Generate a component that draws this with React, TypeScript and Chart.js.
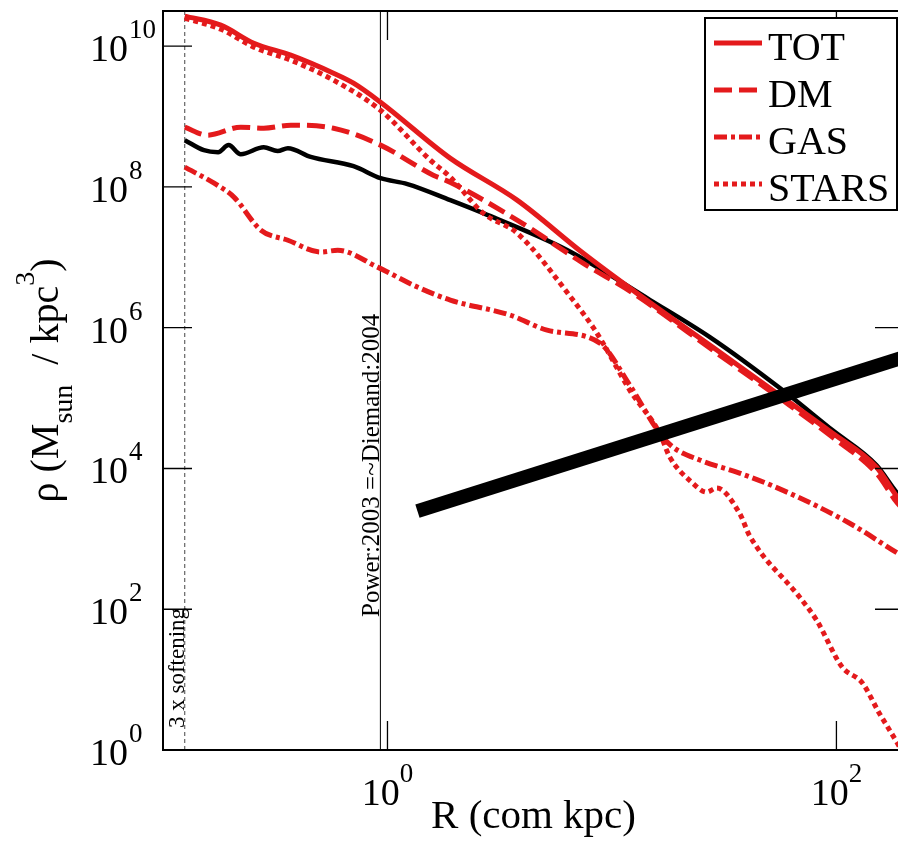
import React, { useEffect, useRef } from 'react';
import { Chart, registerables } from 'chart.js';

Chart.register(...registerables);

const RED = '#e41a1c';
const SERIF = '"Liberation Serif", "Times New Roman", serif';

const X_MIN = 0.1;
const X_MAX = 200;
const Y_MIN = 1;
const Y_MAX = 3.1623e10;

const X_TICKS = [1, 100];
const X_TICK_EXP = ['0', '2'];
const Y_TICKS = [1, 1e2, 1e4, 1e6, 1e8, 1e10];
const Y_TICK_EXP = ['0', '2', '4', '6', '8', '10'];

const SOFTENING_R = 0.125;
const POWER_R = 0.93;

const R_TOT = [0.125, 0.181, 0.254, 0.371, 0.575, 0.706, 0.931, 1.9, 3.78, 7.43, 12.9, 29.3, 57.5, 95.9, 150.6, 186.7, 200];
const RHO_TOT = [2.67e10, 1.99e10, 1.1e10, 7.45e9, 4.13e9, 2.98e9, 1.6e9, 2.57e8, 6.5e7, 1.15e7, 3.1e6, 4.81e5, 1.03e5, 3.18e4, 1.05e4, 3.93e3, 3.0e3];

const R_DM = [0.125, 0.158, 0.222, 0.281, 0.371, 0.575, 0.931, 1.6, 1.9, 3.78, 7.43, 12.4, 29.3, 57.5, 95.9, 150.6, 186.7, 200];
const RHO_DM = [7.07e8, 5.44e8, 7.07e8, 6.84e8, 7.55e8, 6.84e8, 3.93e8, 1.47e8, 1.17e8, 3.38e7, 8.28e6, 3.1e6, 4.36e5, 9.37e4, 2.79e4, 8.6e3, 3.23e3, 2.57e3];

const R_GAS = [0.125, 0.169, 0.207, 0.273, 0.36, 0.504, 0.6, 0.903, 1.36, 1.905, 3.52, 5.14, 8.84, 12.0, 16.3, 18.7, 24.6, 37.0, 57.5, 114, 186.7, 200];
const RHO_GAS = [1.91e8, 1.13e8, 7.17e7, 2.43e7, 1.75e7, 1.19e7, 1.26e7, 7.26e6, 3.78e6, 2.47e6, 1.51e6, 9.25e5, 6.04e5, 1.53e5, 3.18e4, 2.01e4, 1.32e4, 8.6e3, 4.93e3, 1.68e3, 6.29e2, 5.51e2];

const R_STARS = [0.125, 0.181, 0.254, 0.371, 0.575, 0.931, 1.553, 1.905, 2.67, 3.78, 6.71, 8.23, 9.12, 12.0, 16.3, 18.1, 22.9, 26.4, 29.3, 37.0, 41.1, 68.5, 81.5, 106, 130.5, 155, 186.7, 200];
const RHO_STARS = [2.5e10, 1.74e10, 9.7e9, 6.32e9, 3.29e9, 1.23e9, 2.4e8, 1.38e8, 4.24e7, 2.21e7, 2.47e6, 1.02e6, 6.04e5, 1.3e5, 3.18e4, 1.45e4, 6.2e3, 4.62e3, 5.27e3, 2.32e3, 1.1e3, 1.49e2, 70.2, 15.1, 8.95, 3.36, 1.26, 0.85];

const R_BLACK = [0.125, 0.152, 0.176, 0.196, 0.222, 0.281, 0.324, 0.36, 0.455, 0.706, 0.931, 1.227, 1.905, 2.67, 6.31, 14.8, 27.3, 57.5, 95.9, 150.6, 186.7, 200];
const RHO_BLACK = [4.62e8, 3.33e8, 3.12e8, 3.93e8, 2.92e8, 3.67e8, 3.23e8, 3.56e8, 2.67e8, 1.97e8, 1.33e8, 1.1e8, 6.5e7, 4.24e7, 1.27e7, 2.47e6, 7.35e5, 1.3e5, 3.51e4, 1.12e4, 4.47e3, 3.56e3];

const R_POWERLAW = [1.36, 200];
const RHO_POWERLAW = [2.48e3, 3.82e5];

const LEGEND_LABELS = ['TOT', 'DM', 'GAS', 'STARS'];

const toPts = (xs: number[], ys: number[]) => xs.map((x, i) => ({ x, y: ys[i] }));

export default function App() {
  const ref = useRef<HTMLCanvasElement>(null);

  useEffect(() => {
    const canvas = ref.current;
    if (!canvas) return;

    const overlay = {
      id: 'overlay',
      afterDatasetsDraw(chart: any) {
        const ctx = chart.ctx as CanvasRenderingContext2D;
        const { left, right, top, bottom } = chart.chartArea;
        const xs = chart.scales.x;
        const ys = chart.scales.y;
        ctx.save();

        // frame
        ctx.strokeStyle = '#000';
        ctx.lineWidth = 2;
        ctx.setLineDash([]);
        ctx.strokeRect(left, top, right - left, bottom - top);

        // ticks (inward)
        ctx.lineWidth = 1.3;
        const TL = 29;
        Y_TICKS.forEach((v) => {
          const py = ys.getPixelForValue(v);
          ctx.beginPath();
          ctx.moveTo(left, py);
          ctx.lineTo(left + TL, py);
          ctx.moveTo(right, py);
          ctx.lineTo(right - TL, py);
          ctx.stroke();
        });
        X_TICKS.forEach((v) => {
          const px = xs.getPixelForValue(v);
          ctx.beginPath();
          ctx.moveTo(px, bottom);
          ctx.lineTo(px, bottom - TL);
          ctx.moveTo(px, top);
          ctx.lineTo(px, top + TL);
          ctx.stroke();
        });

        // tick labels
        ctx.fillStyle = '#000';
        ctx.textAlign = 'left';
        ctx.textBaseline = 'alphabetic';
        const baseFont = `38px ${SERIF}`;
        const supFont = `27px ${SERIF}`;
        Y_TICKS.forEach((v, i) => {
          const py = ys.getPixelForValue(v);
          ctx.font = baseFont;
          const bx = left - 73;
          ctx.fillText('10', bx, py + 15);
          const w = ctx.measureText('10').width;
          ctx.font = supFont;
          ctx.fillText(Y_TICK_EXP[i], bx + w + 1, py - 8);
        });
        X_TICKS.forEach((v, i) => {
          const px = xs.getPixelForValue(v);
          ctx.font = baseFont;
          const w1 = ctx.measureText('10').width;
          ctx.font = supFont;
          const w2 = ctx.measureText(X_TICK_EXP[i]).width;
          const sx = px - (w1 + w2) / 2;
          ctx.font = baseFont;
          ctx.fillText('10', sx, bottom + 55);
          ctx.font = supFont;
          ctx.fillText(X_TICK_EXP[i], sx + w1, bottom + 32);
        });

        // x title
        ctx.font = `41px ${SERIF}`;
        ctx.textAlign = 'center';
        ctx.fillText('R (com kpc)', (left + right) / 2, bottom + 78);

        // y title (rotated, with sub/superscripts)
        const parts = [
          { t: 'ρ (M', s: 40, dy: 0 },
          { t: 'sun', s: 28, dy: 14 },
          { t: '  / kpc', s: 40, dy: 0 },
          { t: '3', s: 28, dy: -24 },
          { t: ')', s: 40, dy: 0 },
        ];
        let total = 0;
        parts.forEach((p) => {
          ctx.font = `${p.s}px ${SERIF}`;
          total += ctx.measureText(p.t).width;
        });
        ctx.save();
        ctx.translate(58, (top + bottom) / 2 + total / 2);
        ctx.rotate(-Math.PI / 2);
        ctx.textAlign = 'left';
        let off = 0;
        parts.forEach((p) => {
          ctx.font = `${p.s}px ${SERIF}`;
          ctx.fillText(p.t, off, p.dy);
          off += ctx.measureText(p.t).width;
        });
        ctx.restore();

        // vertical line labels
        ctx.save();
        ctx.translate(xs.getPixelForValue(SOFTENING_R) - 1, bottom - 22);
        ctx.rotate(-Math.PI / 2);
        ctx.font = `23px ${SERIF}`;
        ctx.textAlign = 'left';
        ctx.fillText('3 x softening', 0, 0);
        ctx.restore();

        ctx.save();
        ctx.translate(xs.getPixelForValue(POWER_R) - 1, bottom - 133);
        ctx.rotate(-Math.PI / 2);
        ctx.font = `25px ${SERIF}`;
        ctx.textAlign = 'left';
        ctx.fillText('Power:2003 =~Diemand:2004', 0, 0);
        ctx.restore();

        // legend
        const bw = 192;
        const bh = 192;
        const bl = right - 199;
        const bt = top + 7;
        ctx.fillStyle = '#fff';
        ctx.fillRect(bl, bt, bw, bh);
        ctx.strokeStyle = '#000';
        ctx.lineWidth = 2;
        ctx.setLineDash([]);
        ctx.strokeRect(bl, bt, bw, bh);
        LEGEND_LABELS.forEach((lab, i) => {
          const ds = chart.data.datasets[i];
          const ry = bt + 25 + i * 47;
          ctx.strokeStyle = ds.borderColor;
          ctx.lineWidth = ds.borderWidth;
          ctx.setLineDash(ds.borderDash || []);
          ctx.beginPath();
          ctx.moveTo(bl + 9, ry);
          ctx.lineTo(bl + 57, ry);
          ctx.stroke();
          ctx.setLineDash([]);
          ctx.fillStyle = '#000';
          ctx.font = `40px ${SERIF}`;
          ctx.textAlign = 'left';
          ctx.fillText(lab, bl + 63, ry + 17);
        });

        ctx.restore();
      },
    };

    const curve = (label: string, xs: number[], ys: number[], extra: any, order: number) => ({
      label,
      data: toPts(xs, ys),
      borderColor: RED,
      borderWidth: 5,
      pointRadius: 0,
      fill: false,
      cubicInterpolationMode: 'monotone',
      borderCapStyle: 'butt',
      order,
      ...extra,
    });

    const chart = new Chart(canvas, {
      type: 'line',
      data: {
        datasets: [
          curve('TOT', R_TOT, RHO_TOT, {}, 4),
          curve('DM', R_DM, RHO_DM, { borderDash: [18, 7] }, 3),
          curve('GAS', R_GAS, RHO_GAS, { borderDash: [13, 4, 4, 4] }, 2),
          curve('STARS', R_STARS, RHO_STARS, { borderDash: [5, 4] }, 1),
          curve('BLACK', R_BLACK, RHO_BLACK, { borderColor: '#000', borderWidth: 4.5 }, 5),
          {
            label: 'powerlaw',
            data: toPts(R_POWERLAW, RHO_POWERLAW),
            borderColor: '#000',
            borderWidth: 14,
            pointRadius: 0,
            borderCapStyle: 'butt',
            order: 0,
          },
          {
            label: 'softening',
            data: [
              { x: SOFTENING_R, y: Y_MIN },
              { x: SOFTENING_R, y: Y_MAX },
            ],
            borderColor: '#444',
            borderWidth: 1,
            borderDash: [4, 3],
            pointRadius: 0,
            order: 6,
          },
          {
            label: 'power',
            data: [
              { x: POWER_R, y: Y_MIN },
              { x: POWER_R, y: Y_MAX },
            ],
            borderColor: '#000',
            borderWidth: 1,
            pointRadius: 0,
            order: 6,
          },
        ],
      } as any,
      options: {
        animation: false,
        responsive: false,
        devicePixelRatio: 1,
        events: [],
        layout: { padding: { left: 163, top: 11, right: 6, bottom: 100 } },
        plugins: { legend: { display: false }, tooltip: { enabled: false } },
        scales: {
          x: { type: 'logarithmic', min: X_MIN, max: X_MAX, display: false },
          y: { type: 'logarithmic', min: Y_MIN, max: Y_MAX, display: false },
        },
      } as any,
      plugins: [overlay],
    });

    return () => chart.destroy();
  }, []);

  return (
    <div style={{ position: 'fixed', left: 0, top: 0, width: 898, height: 850, overflow: 'hidden', background: '#fff' }}>
      <canvas ref={ref} width={910} height={850} style={{ display: 'block' }} />
    </div>
  );
}
